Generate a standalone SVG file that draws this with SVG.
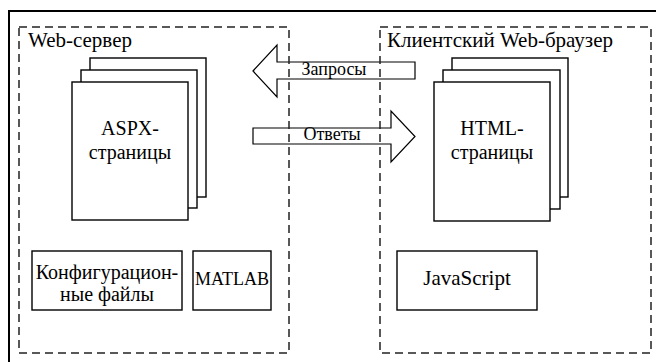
<svg xmlns="http://www.w3.org/2000/svg" width="656" height="362" viewBox="0 0 656 362">
<style>
text{font-family:'Liberation Serif','Times New Roman','DejaVu Serif',serif;fill:#000}
.hd{font-size:21px}
.lg{font-size:20px}
.sm{font-size:18px}
.pg{fill:#fff;stroke:#000;stroke-width:1.4}
.bx{fill:#fff;stroke:#000;stroke-width:1.4}
.ar{fill:#fff;stroke:#000;stroke-width:1.2}
.zone{fill:none;stroke:#222;stroke-width:1.5;stroke-dasharray:8 5}
</style>
<rect width="656" height="362" fill="#fff"/>
<path d="M9,370 V11 H670" fill="none" stroke="#000" stroke-width="2"/>
<g id="connectors" font-family="Liberation Serif, serif">
<polygon class="ar" points="253,71 277,45 277,62 415,62 415,79 277,79 277,97"/>
<text class="sm" x="334" y="75" text-anchor="middle">Запросы</text>
<polygon class="ar" points="253,128 391,128 391,111 415,136.5 391,162 391,144 253,144"/>
<text class="sm" x="332" y="140" text-anchor="middle">Ответы</text>
</g>
<g id="server" font-family="Liberation Serif, serif">
<rect class="zone" x="19" y="27" width="270" height="326"/>
<text class="hd" x="28" y="47">Web-сервер</text>
</g>
<g id="browser" font-family="Liberation Serif, serif">
<rect class="zone" x="380" y="27" width="271" height="326"/>
<text class="hd" x="387" y="47">Клиентский Web-браузер</text>
</g>
<g id="aspx" font-family="Liberation Serif, serif">
<rect class="pg" x="90" y="58" width="116" height="139"/>
<rect class="pg" x="81" y="70" width="116" height="138"/>
<rect class="pg" x="72" y="82" width="116" height="138"/>
<text class="lg" x="130" y="135" text-anchor="middle">ASPX-</text>
<text class="lg" x="130" y="159" text-anchor="middle">страницы</text>
</g>
<g id="html" font-family="Liberation Serif, serif">
<rect class="pg" x="452" y="58" width="116" height="139"/>
<rect class="pg" x="443" y="70" width="117" height="139"/>
<rect class="pg" x="434" y="82" width="116" height="139"/>
<text class="lg" x="492" y="135" text-anchor="middle">HTML-</text>
<text class="lg" x="492" y="159" text-anchor="middle">страницы</text>
</g>
<g id="config" font-family="Liberation Serif, serif">
<rect class="bx" x="32" y="251" width="150" height="59"/>
<text class="lg" x="107" y="279" text-anchor="middle">Конфигурацион-</text>
<text class="lg" x="107" y="301" text-anchor="middle">ные файлы</text>
</g>
<g id="matlab" font-family="Liberation Serif, serif">
<rect class="bx" x="193" y="251" width="78" height="59"/>
<text class="sm" x="232" y="285" text-anchor="middle">MATLAB</text>
</g>
<g id="javascript" font-family="Liberation Serif, serif">
<rect class="bx" x="397" y="251" width="140" height="59"/>
<text class="hd" x="467" y="285" text-anchor="middle">JavaScript</text>
</g>
</svg>
